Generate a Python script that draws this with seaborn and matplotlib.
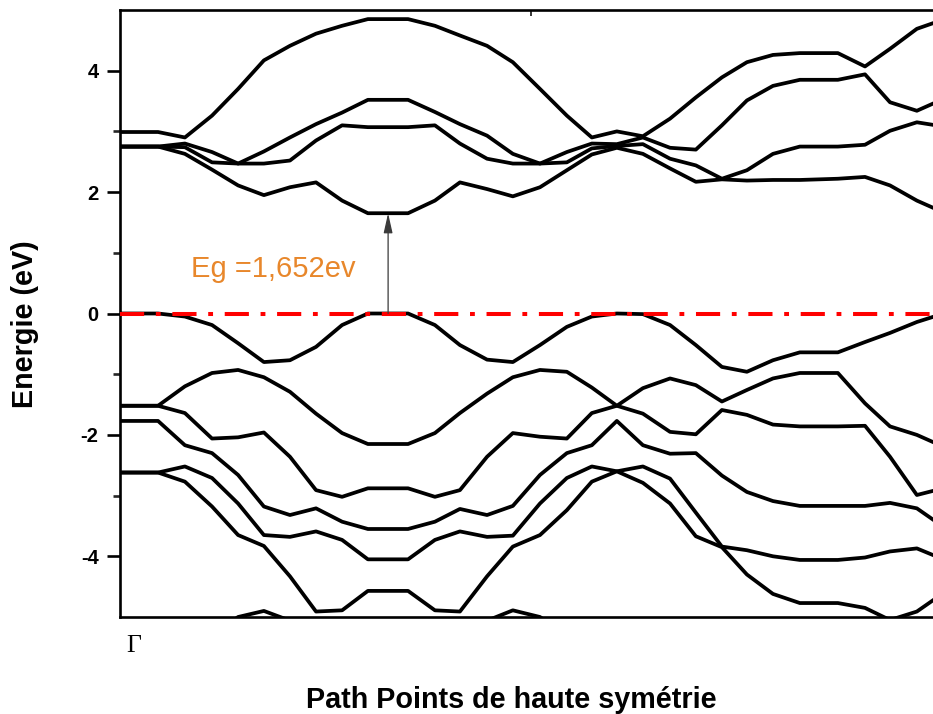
import numpy as np
import pandas as pd
import matplotlib
matplotlib.use("Agg")
import matplotlib.pyplot as plt
import seaborn as sns
from matplotlib.patches import ArrowStyle

# k-path coordinate of each computed point (arbitrary path units, Γ at 0)
k_path = [0.00, 1.43, 2.44, 3.46, 4.44, 5.41, 6.39, 7.37, 8.35, 9.32, 10.08,
          10.83, 11.84, 12.78, 13.80, 14.77, 15.79, 16.80, 17.74, 18.68, 19.66,
          20.68, 21.65, 22.63, 23.57, 24.55, 25.56, 26.28, 26.99, 28.01, 28.95,
          29.96, 30.68]

# conduction bands (eV)
cb1 = [2.75, 2.75, 2.63, 2.37, 2.11, 1.95, 2.08, 2.16, 1.86, 1.652, 1.652,
       1.652, 1.86, 2.16, 2.05, 1.93, 2.08, 2.36, 2.62, 2.73, 2.63, 2.39,
       2.17, 2.21, 2.19, 2.20, 2.20, 2.21, 2.22, 2.25, 2.11, 1.86, 1.72]
cb2 = [2.75, 2.75, 2.74, 2.49, 2.47, 2.47, 2.52, 2.85, 3.10, 3.07, 3.07,
       3.07, 3.10, 2.80, 2.55, 2.47, 2.47, 2.49, 2.72, 2.76, 2.79, 2.55,
       2.44, 2.22, 2.36, 2.63, 2.75, 2.75, 2.75, 2.78, 3.01, 3.15, 3.10]
cb3 = [2.75, 2.75, 2.80, 2.66, 2.47, 2.67, 2.90, 3.12, 3.31, 3.52, 3.52,
       3.52, 3.32, 3.12, 2.93, 2.63, 2.47, 2.66, 2.80, 2.79, 2.90, 2.73,
       2.70, 3.10, 3.51, 3.75, 3.85, 3.85, 3.85, 3.94, 3.48, 3.34, 3.48]
cb4 = [2.99, 2.99, 2.90, 3.26, 3.70, 4.17, 4.41, 4.61, 4.74, 4.85, 4.85,
       4.85, 4.74, 4.58, 4.41, 4.14, 3.70, 3.26, 2.90, 3.00, 2.92, 3.21,
       3.56, 3.89, 4.14, 4.26, 4.29, 4.29, 4.29, 4.07, 4.36, 4.69, 4.80]

# valence bands (eV)
vb1 = [0.00, 0.00, -0.05, -0.19, -0.49, -0.80, -0.77, -0.55, -0.19, 0.00, 0.00,
       0.00, -0.19, -0.52, -0.76, -0.80, -0.52, -0.22, -0.05, 0.00, -0.01, -0.19,
       -0.52, -0.88, -0.96, -0.77, -0.64, -0.64, -0.64, -0.47, -0.32, -0.14, -0.04]
vb2 = [-1.52, -1.52, -1.20, -0.98, -0.93, -1.05, -1.29, -1.65, -1.97, -2.15, -2.15,
       -2.15, -1.97, -1.64, -1.32, -1.05, -0.93, -0.96, -1.22, -1.52, -1.23, -1.07,
       -1.18, -1.45, -1.26, -1.07, -0.98, -0.98, -0.98, -1.48, -1.86, -2.00, -2.14]
vb3 = [-1.52, -1.52, -1.64, -2.06, -2.04, -1.96, -2.36, -2.91, -3.02, -2.88, -2.88,
       -2.88, -3.02, -2.91, -2.36, -1.97, -2.03, -2.06, -1.64, -1.52, -1.65, -1.95,
       -1.99, -1.59, -1.67, -1.83, -1.86, -1.86, -1.86, -1.85, -2.36, -2.99, -2.91]
vb4 = [-1.77, -1.77, -2.17, -2.30, -2.66, -3.18, -3.32, -3.21, -3.43, -3.55, -3.55,
       -3.55, -3.43, -3.22, -3.32, -3.17, -2.66, -2.30, -2.17, -1.77, -2.17, -2.31,
       -2.30, -2.67, -2.94, -3.09, -3.17, -3.17, -3.17, -3.17, -3.12, -3.21, -3.43]
vb5 = [-2.62, -2.62, -2.52, -2.71, -3.13, -3.65, -3.68, -3.59, -3.73, -4.05, -4.05,
       -4.05, -3.73, -3.59, -3.68, -3.66, -3.13, -2.71, -2.52, -2.60, -2.52, -2.72,
       -3.28, -3.84, -3.90, -4.00, -4.06, -4.06, -4.06, -4.02, -3.92, -3.87, -4.00]
vb6 = [-2.62, -2.62, -2.77, -3.18, -3.65, -3.83, -4.33, -4.91, -4.89, -4.57, -4.57,
       -4.57, -4.89, -4.91, -4.33, -3.84, -3.65, -3.24, -2.77, -2.60, -2.79, -3.13,
       -3.67, -3.85, -4.30, -4.62, -4.77, -4.77, -4.77, -4.85, -5.05, -4.91, -4.69]
vb7 = [-5.30, -5.30, -5.30, -5.30, -5.00, -4.90, -5.06, -5.30, -5.30, -5.30, -5.30,
       -5.30, -5.30, -5.30, -5.06, -4.89, -5.00, -5.30, -5.30, -5.30, -5.30, -5.30,
       -5.30, -5.30, -5.30, -5.30, -5.30, -5.30, -5.30, -5.30, -5.30, -5.30, -5.30]

band_names = ["cb1", "cb2", "cb3", "cb4", "vb1", "vb2", "vb3", "vb4", "vb5", "vb6", "vb7"]
band_values = [cb1, cb2, cb3, cb4, vb1, vb2, vb3, vb4, vb5, vb6, vb7]

fermi_level = 0.0
gap_index = 10                     # direct gap point (CBM / VBM)
gap_label = "Eg =1,652ev"
y_ticks = [-4, -2, 0, 2, 4]
y_minor = [-3, -1, 1, 3]
k_top_tick = 15.45
k_max = 30.98

df = pd.DataFrame({
    "k": np.tile(k_path, len(band_names)),
    "E": np.concatenate(band_values),
    "band": np.repeat(band_names, len(k_path)),
})

sns.set_theme(style="ticks")
plt.rcParams["font.family"] = ["Liberation Sans", "DejaVu Sans"]
plt.rcParams["axes.unicode_minus"] = False
plt.rcParams["text.color"] = "black"

W, H = 933, 714
fig = plt.figure(figsize=(W / 100, H / 100), dpi=100)
ax = fig.add_axes([120 / W, (H - 617) / H, (944 - 120) / W, (617 - 10) / H])

sns.lineplot(data=df, x="k", y="E", units="band", estimator=None, sort=False,
             color="black", lw=2.7, ax=ax, legend=False)

# Fermi level
ax.axhline(fermi_level, color="#ff0000", lw=2.9,
           linestyle=(0, (6, 2.9, 1.2, 2.9)), zorder=5)

# band-gap arrow and label
k_gap = k_path[gap_index]
ax.annotate("", xy=(k_gap, cb1[gap_index]), xytext=(k_gap, vb1[gap_index]),
            arrowprops=dict(arrowstyle=ArrowStyle("-|>", head_length=0.8, head_width=0.18),
                            color="#3a3a3a", lw=0.9, shrinkA=0, shrinkB=0,
                            mutation_scale=15), zorder=6)
ax.text(2.66, 0.60, gap_label, color="#e8872b", fontsize=21,
        ha="left", va="baseline")

ax.set_xlim(0, k_max)
ax.set_ylim(-5, 5)
ax.set_xlabel("")
ax.set_ylabel("")

ax.set_yticks(y_ticks)
ax.set_yticklabels([str(v) for v in y_ticks], fontsize=14.5, fontweight="bold")
ax.set_yticks(y_minor, minor=True)
ax.tick_params(axis="y", which="major", direction="out", length=9.4, width=1.9,
               pad=6.0, colors="black", left=True, right=False)
ax.tick_params(axis="y", which="minor", direction="out", length=4.8, width=1.9,
               left=True, right=False)

ax.set_xticks([k_top_tick])
ax.tick_params(axis="x", which="major", bottom=False, top=True, labelbottom=False,
               labeltop=False, direction="in", length=4.3, width=1.1, colors="black")
ax.tick_params(axis="x", which="minor", bottom=False, top=False)

for s in ax.spines.values():
    s.set_color("black")
    s.set_linewidth(1.9)

# high-symmetry point label
ax.annotate("Γ", xy=(0, 0), xycoords="axes fraction", xytext=(13.5, -34.7),
            textcoords="offset pixels", ha="center", va="baseline",
            fontsize=18.5, family=["Liberation Serif", "DejaVu Serif"])

fig.text(25 / W, 1 - 324 / H, "Energie (eV)", rotation=90, ha="center", va="center",
         fontsize=20.7, fontweight="bold")
fig.text(511.5 / W, 1 - 708 / H, "Path Points de haute symétrie", ha="center",
         va="baseline", fontsize=20.7, fontweight="bold")

fig.savefig("out.png", dpi=100)
